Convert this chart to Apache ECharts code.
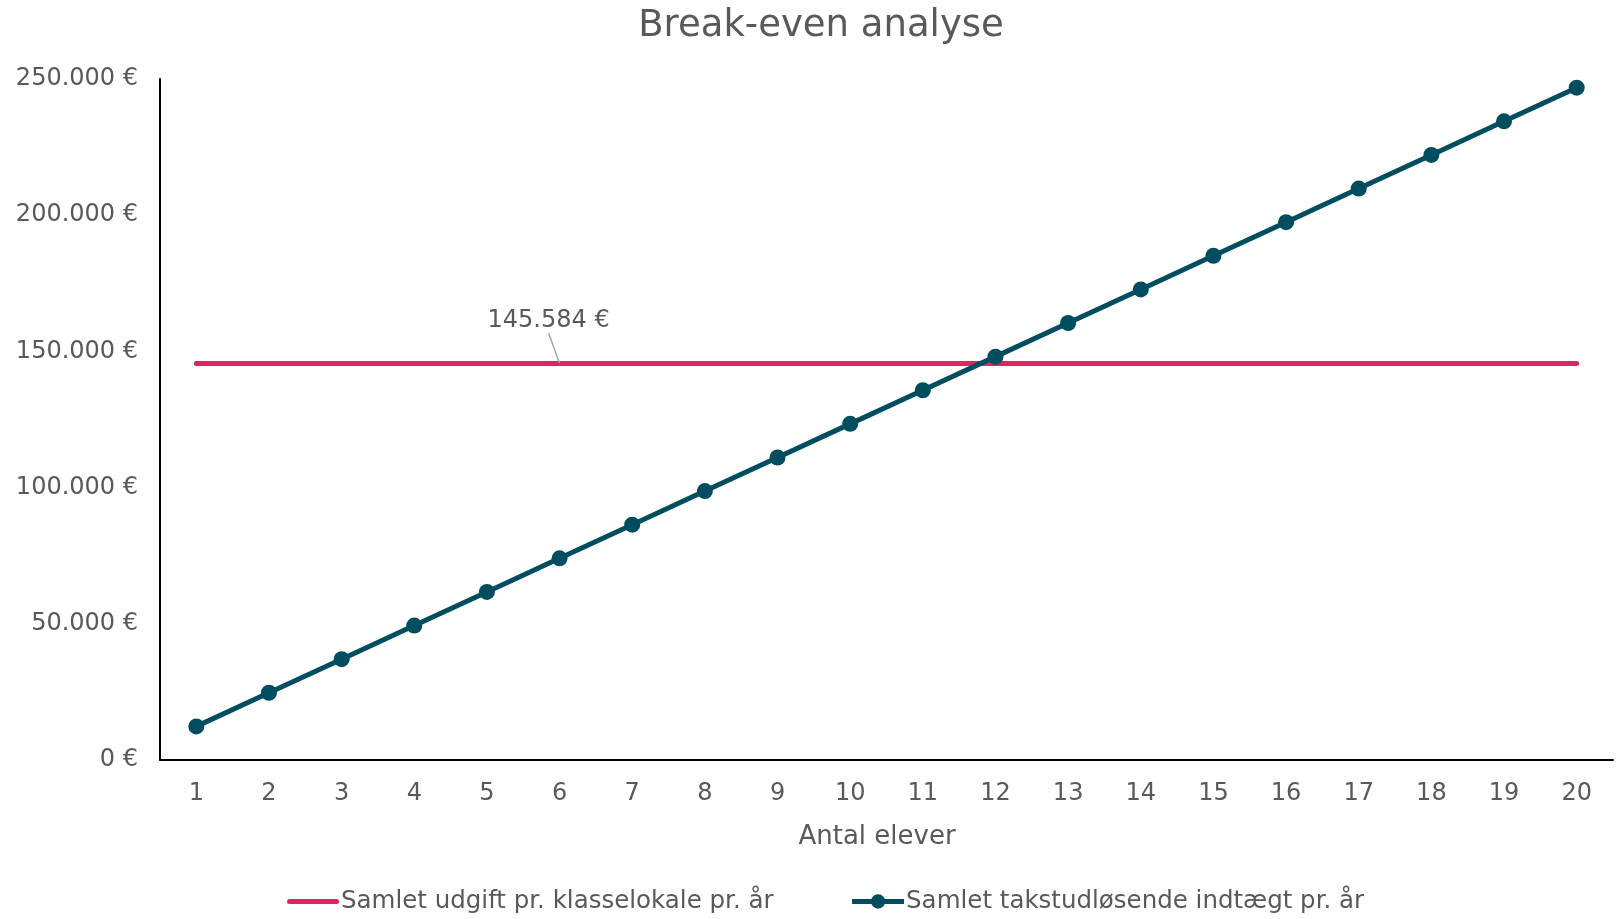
<!DOCTYPE html>
<html>
<head>
<meta charset="utf-8">
<title>Break-even analyse</title>
<script src="https://cdn.jsdelivr.net/npm/echarts@6/dist/echarts.min.js"></script>
<style>
  html, body { margin: 0; padding: 0; background: #fff; }
  #chart { width: 1617px; height: 919px; }
</style>
</head>
<body>
<div id="chart"></div>
<script>
// data
const elever = ['1', '2', '3', '4', '5', '6', '7', '8', '9', '10',
  '11', '12', '13', '14', '15', '16', '17', '18', '19', '20'];
const udgift = [145584, 145584, 145584, 145584, 145584, 145584, 145584, 145584, 145584, 145584,
  145584, 145584, 145584, 145584, 145584, 145584, 145584, 145584, 145584, 145584];
const indtaegt = [12340, 24680, 37020, 49360, 61700, 74040, 86380, 98720, 111060, 123400,
  135740, 148080, 160420, 172760, 185100, 197440, 209780, 222120, 234460, 246800];
const labelIndex = 5; // where the 145.584 € label sits

const textColor = '#595959';
const red = '#E0245E';
const teal = '#004D60';
const fontFamily = '"DejaVu Sans", Verdana, sans-serif';

function euro(v) {
  return String(Math.round(v)).replace(/\B(?=(\d{3})+(?!\d))/g, '.') + ' €';
}

const myChart = echarts.init(document.getElementById('chart'));

const option = {
  animation: false,
  textStyle: { fontFamily: fontFamily, color: textColor },
  title: {
    text: 'Break-even analyse',
    left: 816,
    top: 3,
    textAlign: 'center',
    textStyle: { fontSize: 37, fontWeight: 'normal', color: textColor, fontFamily: fontFamily }
  },
  legend: {
    bottom: 0,
    left: 282,
    itemWidth: 52,
    itemHeight: 18,
    itemGap: 76,
    textStyle: { fontSize: 24.5, color: textColor, fontFamily: fontFamily, padding: [0, 0, 0, -3] },
    data: [
      {
        name: 'Samlet udgift pr. klasselokale pr. år',
        icon: 'path://M2.5,0 L49.5,0 A2.5,2.5 0 0 1 49.5,5 L2.5,5 A2.5,2.5 0 0 1 2.5,0 Z',
        itemStyle: { color: red }
      },
      {
        name: 'Samlet takstudløsende indtægt pr. år',
        lineStyle: { width: 5, color: teal }
      }
    ]
  },
  grid: {
    left: 160,
    right: 4,
    top: 79,
    bottom: 159,
    containLabel: false
  },
  xAxis: {
    type: 'category',
    data: elever,
    boundaryGap: true,
    name: 'Antal elever',
    nameLocation: 'middle',
    nameGap: 64,
    nameTextStyle: { fontSize: 26, color: textColor, padding: [0, 19, 0, 0] },
    axisLine: { show: true, lineStyle: { color: '#000', width: 2 } },
    axisTick: { show: false },
    axisLabel: { fontSize: 24, color: textColor, margin: 22 },
    splitLine: { show: false }
  },
  yAxis: {
    type: 'value',
    min: 0,
    max: 250000,
    interval: 50000,
    axisLine: { show: true, lineStyle: { color: '#000', width: 2 } },
    axisTick: { show: false },
    splitLine: { show: false },
    axisLabel: { fontSize: 24, color: textColor, margin: 22, formatter: euro }
  },
  series: [
    {
      name: 'Samlet udgift pr. klasselokale pr. år',
      type: 'line',
      data: udgift.map((v, i) => i === labelIndex ? {
        value: v,
        label: {
          show: true,
          position: 'top',
          distance: 0,
          fontSize: 24,
          color: textColor,
          formatter: (p) => euro(p.value)
        },
        labelLine: { show: true, lineStyle: { color: '#a6a6a6', width: 1.5 } }
      } : v),
      symbol: 'circle',
      symbolSize: 1,
      showSymbol: true,
      lineStyle: { width: 5, color: red, cap: 'round' },
      itemStyle: { color: red },
      labelLayout: (params) => params.dataIndex === labelIndex ? { dx: -11, dy: -30 } : {},
      z: 2
    },
    {
      name: 'Samlet takstudløsende indtægt pr. år',
      type: 'line',
      data: indtaegt,
      symbol: 'circle',
      symbolSize: 16,
      lineStyle: { width: 5, color: teal },
      itemStyle: { color: teal },
      z: 3
    }
  ]
};

myChart.setOption(option);
window.addEventListener('resize', () => myChart.resize());
</script>
</body>
</html>
